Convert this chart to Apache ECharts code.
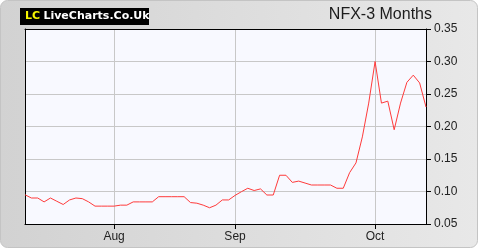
<!DOCTYPE html>
<html>
<head>
<meta charset="utf-8">
<script src="https://cdn.jsdelivr.net/npm/echarts@6/dist/echarts.min.js"></script>
<style>
html,body{margin:0;padding:0;background:#fff;}
#c{width:480px;height:250px;}
</style>
</head>
<body>
<div id="c"></div>
<script>
// NFX price, one value per trading day (approx. 3 months)
var prices = [
  0.095, 0.090, 0.090, 0.084, 0.090, 0.085, 0.080, 0.087, 0.090, 0.089,
  0.084, 0.0775, 0.0775, 0.0775, 0.0775, 0.079, 0.079, 0.084, 0.084, 0.084,
  0.084, 0.092, 0.092, 0.092, 0.092, 0.092, 0.083, 0.082, 0.079, 0.075,
  0.079, 0.087, 0.087, 0.094, 0.0997, 0.105, 0.1015, 0.104, 0.0946, 0.0946,
  0.125, 0.125, 0.114, 0.116, 0.113, 0.110, 0.110, 0.110, 0.110, 0.105,
  0.105, 0.129, 0.144, 0.184, 0.236, 0.300, 0.236, 0.239, 0.195, 0.236,
  0.268, 0.279, 0.267, 0.230
];
var days = prices.map(function (_, i) { return String(i); });
var monthLabels = ['Aug', 'Sep', 'Oct'];
var monthIndex = [14, 33, 55];
var yTicks = [0.05, 0.10, 0.15, 0.20, 0.25, 0.30, 0.35];
var titleText = 'NFX-3 Months';

function isMonth(i) { return monthIndex.indexOf(i) >= 0; }

var chart = echarts.init(document.getElementById('c'), null, {renderer: 'canvas'});
chart.setOption({
  animation: false,
  backgroundColor: '#ffffff',
  graphic: [
    {type: 'rect', z: -10, shape: {x: 0.5, y: 0.5, width: 477, height: 247, r: 7},
     style: {fill: new echarts.graphic.LinearGradient(0, 0, 1, 0, [
       {offset: 0, color: '#d2d2d2'}, {offset: 1, color: '#e8e8e8'}]),
       stroke: '#c4c4c4', lineWidth: 1}},
    {type: 'rect', shape: {x: 20, y: 8, width: 129, height: 17}, style: {fill: '#000'}},
    {type: 'text', x: 25, y: 16.5, style: {
      text: '{a|LC} {b|LiveCharts.Co.Uk}', verticalAlign: 'middle',
      rich: {
        a: {fill: '#f5f500', fontFamily: 'DejaVu Sans', fontWeight: 'bold', fontSize: 11},
        b: {fill: '#ffffff', fontFamily: 'DejaVu Sans', fontWeight: 'bold', fontSize: 11}
      }}},
    {type: 'text', x: 432, y: 7, style: {
      text: titleText, align: 'right', verticalAlign: 'top',
      fill: '#1c1c1c', fontFamily: 'Liberation Sans', fontSize: 16}}
  ],
  grid: {left: 25, right: 54, top: 29, bottom: 26, show: true,
         backgroundColor: '#f8f9ff', borderColor: '#000', borderWidth: 0},
  xAxis: [{
    type: 'category', data: days, boundaryGap: false,
    axisLine: {show: true, lineStyle: {color: '#000', width: 1}},
    axisTick: {show: true, interval: function (i) { return isMonth(i); }, length: 5,
               lineStyle: {color: '#000'}},
    axisLabel: {interval: function (i) { return isMonth(i); },
      formatter: function (v, i) { var k = monthIndex.indexOf(i); return k >= 0 ? monthLabels[k] : ''; },
      color: '#222', fontFamily: 'Liberation Sans', fontSize: 12, margin: 7},
    splitLine: {show: true, interval: function (i) { return isMonth(i); },
                lineStyle: {color: '#c8c8c8', width: 1}}
  }, {
    type: 'category', data: days, boundaryGap: false, position: 'top',
    axisLine: {show: true, onZero: false, lineStyle: {color: '#000', width: 1}},
    axisTick: {show: false}, axisLabel: {show: false}, splitLine: {show: false}
  }],
  yAxis: [{
    type: 'value', position: 'right', min: yTicks[0], max: yTicks[yTicks.length - 1], interval: 0.05,
    axisLine: {show: true, lineStyle: {color: '#000', width: 1}},
    axisTick: {show: true, length: 5, lineStyle: {color: '#000'}},
    axisLabel: {formatter: function (v) { return v.toFixed(2); }, color: '#222',
                fontFamily: 'Liberation Sans', fontSize: 12, margin: 8},
    splitLine: {show: true, lineStyle: {color: '#c8c8c8', width: 1}}
  }, {
    type: 'value', position: 'left', min: yTicks[0], max: yTicks[yTicks.length - 1], interval: 0.05,
    axisLine: {show: true, onZero: false, lineStyle: {color: '#000', width: 1}},
    axisTick: {show: false}, axisLabel: {show: false}, splitLine: {show: false}
  }],
  series: [{
    type: 'line', data: prices, xAxisIndex: 0, yAxisIndex: 0,
    showSymbol: false, symbol: 'none',
    lineStyle: {color: '#ff3b3b', width: 1}
  }]
});
</script>
</body>
</html>
